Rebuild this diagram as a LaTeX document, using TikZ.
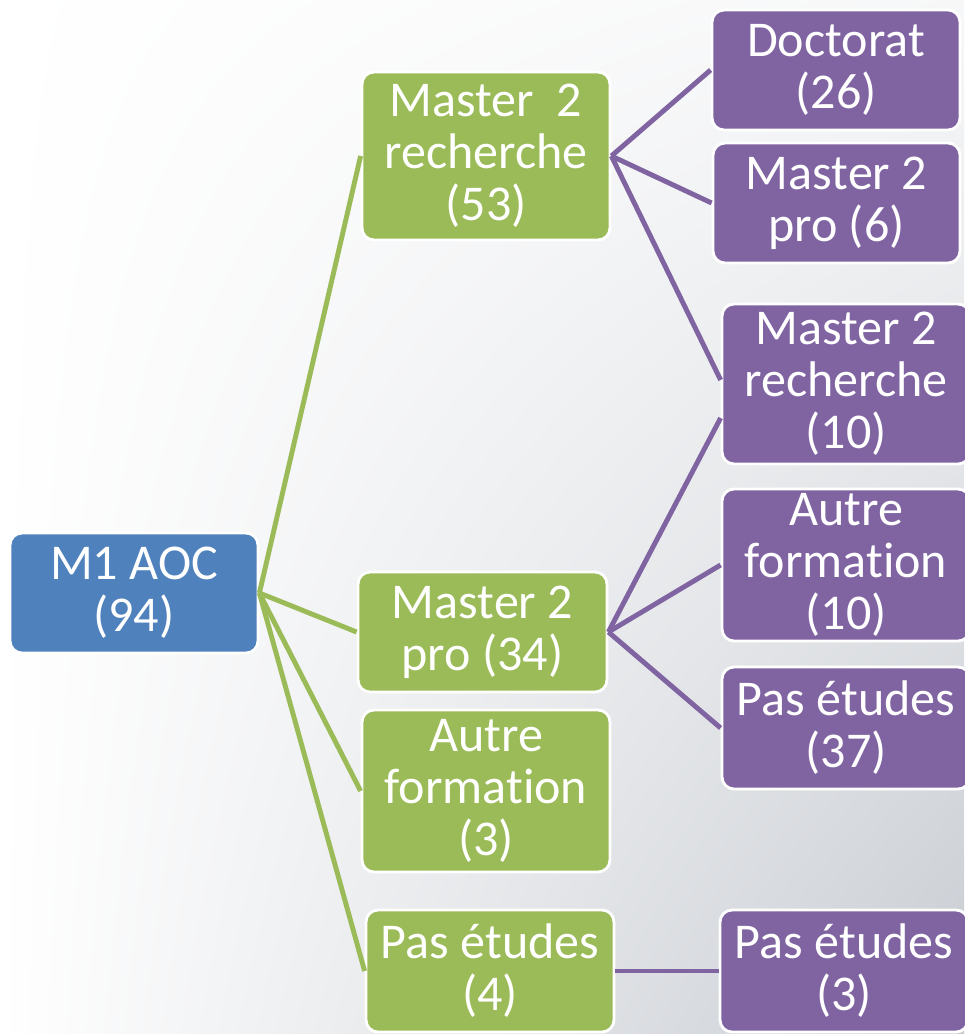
\documentclass[tikz,border=0pt]{standalone}
\usepackage{fontspec}
\setmainfont{Carlito}[Ligatures=NoCommon]
\usetikzlibrary{shadings}
\definecolor{aocblue}{HTML}{4F81BD}
\definecolor{aocgreen}{HTML}{9BBB59}
\definecolor{aocpurple}{HTML}{8064A2}
\definecolor{aocgray}{RGB}{200,204,210}
\begin{document}
\begin{tikzpicture}[x=0.02cm, y=-0.02cm,
		box/.style={draw=white, line width=1.6pt, rounded corners=0.24cm, text=white, align=center,
			inner sep=0pt, font=\fontsize{28.5}{29.6}\selectfont},
		bluebox/.style={box, fill=aocblue},
		greenbox/.style={box, fill=aocgreen},
		purplebox/.style={box, fill=aocpurple},
		greenline/.style={draw=aocgreen, line width=2.8pt},
		purpleline/.style={draw=aocpurple, line width=2.8pt}]
			% background
			\shade[upper left=white, upper right=aocgray!15, lower left=white, lower right=aocgray] (0,0) rectangle (964,1034);
			\useasboundingbox (0,0) rectangle (964,1034);
	
			% first level
			\node[bluebox, minimum width=4.96cm, minimum height=2.4cm] (m1) at (134,593) {M1 AOC\\(94)};
	
			% second level
			\node[greenbox, minimum width=4.96cm, minimum height=3.36cm] (m2rech) at (486,156) {Master\ \ 2\\recherche\\(53)};
			\node[greenbox, minimum width=4.98cm, minimum height=2.4cm] (m2pro) at (482.5,632) {Master 2\\pro (34)};
			\node[greenbox, minimum width=4.96cm, minimum height=3.24cm] (autre) at (486,791) {Autre\\formation\\(3)};
			\node[greenbox, minimum width=4.96cm, minimum height=2.44cm] (pas) at (490,971) {Pas études\\(4)};
	
			% third level
			\node[purplebox, minimum width=4.96cm, minimum height=2.4cm] (doct) at (836,70) {Doctorat\\(26)};
			\node[purplebox, minimum width=4.94cm, minimum height=2.4cm] (m2prob) at (836.5,203) {Master 2\\pro (6)};
			\node[purplebox, minimum width=4.96cm, minimum height=3.2cm] (m2rechb) at (846,384) {Master 2\\recherche\\(10)};
			\node[purplebox, minimum width=4.96cm, minimum height=3.04cm] (autreb) at (846,565) {Autre\\formation\\(10)};
			\node[purplebox, minimum width=4.96cm, minimum height=2.44cm] (pasb) at (846,728) {Pas études\\(37)};
			\node[purplebox, minimum width=4.96cm, minimum height=2.44cm] (pasc) at (844,971) {Pas études\\(3)};
	
			% links
			\draw[greenline] (m1.east) -- (m2rech.west);
			\draw[greenline] (m1.east) -- (m2pro.west);
			\draw[greenline] (m1.east) -- (autre.west);
			\draw[greenline] (m1.east) -- (pas.west);
			\draw[purpleline] (m2rech.east) -- (doct.west);
			\draw[purpleline] (m2rech.east) -- (m2prob.west);
			\draw[purpleline] (m2rech.east) -- ([yshift=0.08cm]m2rechb.west);
			\draw[purpleline] (m2pro.east) -- ([yshift=-0.68cm]m2rechb.west);
			\draw[purpleline] (m2pro.east) -- (autreb.west);
			\draw[purpleline] (m2pro.east) -- (pasb.west);
			\draw[purpleline] (pas.east) -- (pasc.west);
		\end{tikzpicture}
\end{document}
